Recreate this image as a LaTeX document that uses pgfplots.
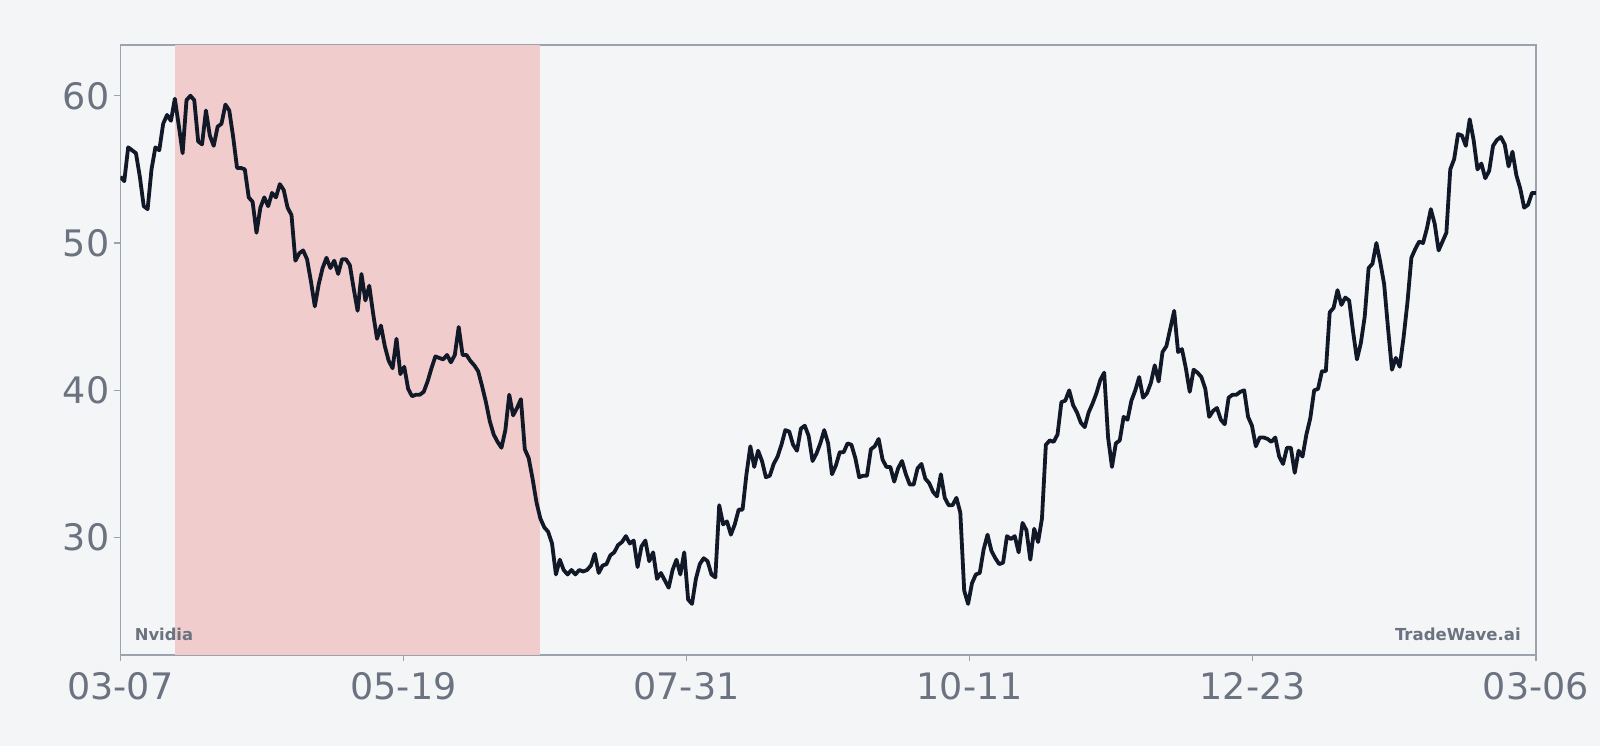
\documentclass[border=0pt]{standalone}
\usepackage{pgfplots}
\pgfplotsset{compat=1.18}
\usepackage{pgfplotstable}
\usepackage{fontspec}
\setmainfont{DejaVu Sans}
\definecolor{bg}{HTML}{F4F5F7}
\definecolor{shade}{HTML}{F0CCCC}
\definecolor{linec}{HTML}{111827}
\definecolor{framec}{HTML}{9CA3AF}
\definecolor{labelc}{HTML}{6B7280}
\pgfplotstableread{
x y
0 54.5
1 54.2
2 56.5
3 56.3
4 56.1
5 54.5
6 52.5
7 52.3
8 55.0
9 56.5
10 56.3
11 58.1
12 58.7
13 58.3
14 59.8
15 58.0
16 56.1
17 59.7
18 60.0
19 59.7
20 56.9
21 56.7
22 59.0
23 57.3
24 56.6
25 57.9
26 58.1
27 59.4
28 59.0
29 57.2
30 55.1
31 55.1
32 55.0
33 53.1
34 52.8
35 50.7
36 52.4
37 53.1
38 52.5
39 53.4
40 53.1
41 54.0
42 53.6
43 52.4
44 51.9
45 48.8
46 49.3
47 49.5
48 48.9
49 47.4
50 45.7
51 47.2
52 48.3
53 49.0
54 48.3
55 48.8
56 47.9
57 48.9
58 48.9
59 48.5
60 46.9
61 45.4
62 47.9
63 46.1
64 47.1
65 45.2
66 43.5
67 44.4
68 43.0
69 42.0
70 41.5
71 43.5
72 41.1
73 41.6
74 40.1
75 39.6
76 39.7
77 39.7
78 39.9
79 40.6
80 41.5
81 42.3
82 42.2
83 42.1
84 42.4
85 41.9
86 42.4
87 44.3
88 42.4
89 42.4
90 42.0
91 41.7
92 41.3
93 40.3
94 39.2
95 37.9
96 37.0
97 36.5
98 36.1
99 37.3
100 39.7
101 38.3
102 38.8
103 39.4
104 36.0
105 35.4
106 34.0
107 32.4
108 31.3
109 30.7
110 30.4
111 29.6
112 27.5
113 28.5
114 27.8
115 27.5
116 27.8
117 27.5
118 27.8
119 27.7
120 27.8
121 28.1
122 28.9
123 27.6
124 28.1
125 28.2
126 28.8
127 29.0
128 29.5
129 29.7
130 30.1
131 29.6
132 29.8
133 28.0
134 29.4
135 29.8
136 28.4
137 29.0
138 27.2
139 27.6
140 27.1
141 26.6
142 27.8
143 28.5
144 27.5
145 29.0
146 25.8
147 25.5
148 27.2
149 28.2
150 28.6
151 28.4
152 27.5
153 27.3
154 32.2
155 30.9
156 31.1
157 30.2
158 30.9
159 31.9
160 31.9
161 34.3
162 36.2
163 34.8
164 35.9
165 35.2
166 34.1
167 34.2
168 35.0
169 35.5
170 36.3
171 37.3
172 37.2
173 36.3
174 35.9
175 37.4
176 37.6
177 36.9
178 35.2
179 35.7
180 36.4
181 37.3
182 36.4
183 34.3
184 34.9
185 35.8
186 35.8
187 36.4
188 36.3
189 35.4
190 34.1
191 34.2
192 34.2
193 36.0
194 36.2
195 36.7
196 35.3
197 34.8
198 34.8
199 33.8
200 34.7
201 35.2
202 34.3
203 33.6
204 33.6
205 34.7
206 35.0
207 34.0
208 33.7
209 33.1
210 32.8
211 34.3
212 32.7
213 32.2
214 32.2
215 32.7
216 31.7
217 26.4
218 25.5
219 26.9
220 27.5
221 27.6
222 29.2
223 30.2
224 29.1
225 28.6
226 28.2
227 28.3
228 30.1
229 29.9
230 30.1
231 29.0
232 31.0
233 30.5
234 28.5
235 30.6
236 29.7
237 31.3
238 36.3
239 36.6
240 36.5
241 37.0
242 39.2
243 39.3
244 40.0
245 39.0
246 38.5
247 37.8
248 37.5
249 38.5
250 39.1
251 39.8
252 40.7
253 41.2
254 36.8
255 34.8
256 36.4
257 36.6
258 38.2
259 38.0
260 39.3
261 40.0
262 40.9
263 39.5
264 39.8
265 40.5
266 41.7
267 40.6
268 42.6
269 43.0
270 44.2
271 45.4
272 42.6
273 42.8
274 41.5
275 39.9
276 41.4
277 41.2
278 40.9
279 40.1
280 38.2
281 38.6
282 38.8
283 38.0
284 37.7
285 39.5
286 39.7
287 39.7
288 39.9
289 40.0
290 38.2
291 37.6
292 36.2
293 36.8
294 36.8
295 36.7
296 36.5
297 36.8
298 35.5
299 35.0
300 36.1
301 36.1
302 34.4
303 35.9
304 35.5
305 37.0
306 38.1
307 40.0
308 40.1
309 41.3
310 41.3
311 45.3
312 45.6
313 46.8
314 45.8
315 46.3
316 46.1
317 44.0
318 42.1
319 43.2
320 45.0
321 48.3
322 48.6
323 50.0
324 48.7
325 47.2
326 44.2
327 41.4
328 42.2
329 41.6
330 43.6
331 46.0
332 49.0
333 49.6
334 50.1
335 50.0
336 51.0
337 52.3
338 51.3
339 49.5
340 50.1
341 50.7
342 55.0
343 55.7
344 57.4
345 57.3
346 56.6
347 58.4
348 57.0
349 55.0
350 55.4
351 54.4
352 54.9
353 56.6
354 57.0
355 57.2
356 56.7
357 55.2
358 56.2
359 54.6
360 53.7
361 52.4
362 52.6
363 53.4
364 53.4
}\pricedata
\begin{document}
\begin{tikzpicture}
\fill[bg] (-60.2bp,-45.5bp) rectangle (739.8bp,327.5bp);
\useasboundingbox (-60.2bp,-45.5bp) rectangle (739.8bp,327.5bp);
\begin{axis}[
  at={(0,0)}, anchor=south west,
  scale only axis,
  width=707.7bp, height=305.1bp,
  xmin=0, xmax=364, ymin=22.03, ymax=63.46,
  axis background/.style={fill=bg},
  axis line style={draw=framec, line width=0.9bp},
  xtick={0,72.8,145.6,218.4,291.2,364},
  xticklabels={03-07,05-19,07-31,10-11,12-23,03-06},
  ytick={30,40,50,60},
  tick align=outside,
  tick style={draw=framec, line width=0.7bp},
  major tick length=3bp,
  xtick pos=bottom, ytick pos=left,
  ticklabel style={text=labelc, font=\fontsize{18.3}{20}\selectfont},
  /pgf/number format/assume math mode=true,
  xticklabel style={yshift=-2bp},
  yticklabel style={xshift=1bp},
  clip=true,
]
\addplot[draw=none, fill=shade] coordinates {(14,22.03) (14,63.46) (108,63.46) (108,22.03)} -- cycle;
\addplot[linec, line width=1.9bp, line join=round] table[x=x,y=y] {\pricedata};
\node[anchor=base west, text=labelc, font=\bfseries\fontsize{8.2}{10}\selectfont, xshift=3.7bp, yshift=7.5bp] at (rel axis cs:0,0) {Nvidia};
\node[anchor=base east, text=labelc, font=\bfseries\fontsize{8.3}{10}\selectfont, xshift=-4bp, yshift=7.5bp] at (rel axis cs:1,0) {TradeWave.ai};
\end{axis}
\end{tikzpicture}
\end{document}
